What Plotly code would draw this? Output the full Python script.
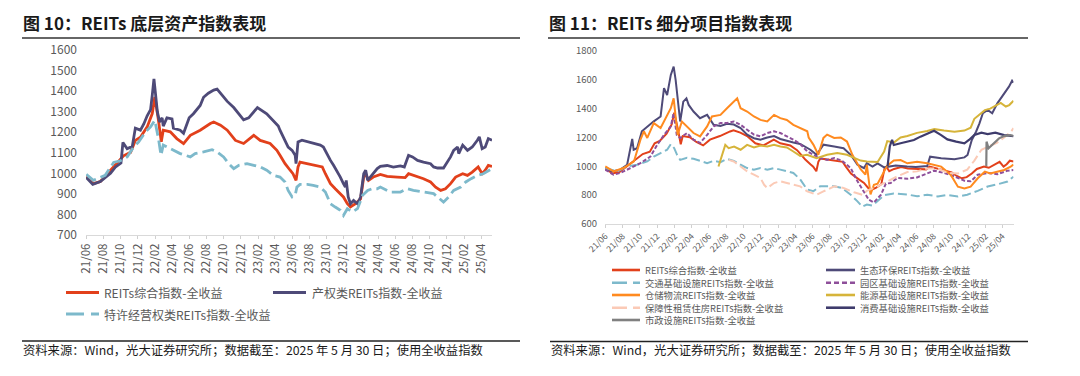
import plotly.graph_objects as go

W, H = 1080, 376
FONT = "Noto Sans CJK SC"
GREY = "#595959"

def px(x):
    return x / W

def py(y):
    return 1 - y / H

# ---------------- data: tick labels ----------------
TICK_LABELS = ["21/06", "21/08", "21/10", "21/12", "22/02", "22/04", "22/06", "22/08",
               "22/10", "22/12", "23/02", "23/04", "23/06", "23/08", "23/10", "23/12",
               "24/02", "24/04", "24/06", "24/08", "24/10", "24/12", "25/02", "25/04"]
TICK_DATES = ["20" + t[:2] + "-" + t[3:] + "-21" for t in TICK_LABELS]

# ---------------- left chart series ----------------
COMP_DATES = ["2021-06-21", "2021-07-16", "2021-08-10", "2021-09-26", "2021-10-31", "2021-11-25",
              "2021-12-12", "2021-12-30", "2022-01-23", "2022-02-10", "2022-02-19", "2022-03-04",
              "2022-03-14", "2022-03-21", "2022-04-15", "2022-05-08", "2022-06-01", "2022-06-25",
              "2022-07-30", "2022-09-04", "2022-09-16", "2022-10-10", "2022-11-03", "2022-12-02",
              "2022-12-31", "2023-02-05", "2023-02-28", "2023-04-04", "2023-04-28", "2023-05-09",
              "2023-05-27", "2023-06-14", "2023-06-24", "2023-07-05", "2023-07-12", "2023-07-19",
              "2023-08-14", "2023-09-04", "2023-10-06", "2023-10-17", "2023-11-04", "2023-11-21",
              "2023-12-09", "2023-12-20", "2024-01-03", "2024-01-14", "2024-02-01", "2024-02-19",
              "2024-03-01", "2024-03-08", "2024-03-18", "2024-04-04", "2024-04-29", "2024-05-23",
              "2024-06-28", "2024-07-26", "2024-08-07", "2024-08-24", "2024-09-29", "2024-10-24",
              "2024-11-11", "2024-11-29", "2024-12-16", "2025-01-03", "2025-01-21", "2025-02-15",
              "2025-03-04", "2025-03-21", "2025-04-11", "2025-04-25", "2025-05-06", "2025-05-17",
              "2025-05-30"]
COMP_VALUES = [985, 950, 960, 1029, 1085, 1102,
               1160, 1176, 1226, 1291, 1372, 1258,
               1153, 1210, 1202, 1169, 1145, 1185,
               1210, 1242, 1250, 1234, 1210, 1160,
               1145, 1185, 1160, 1145, 1112, 1088,
               1047, 1015, 998, 966, 1031, 1055,
               1047, 1039, 1031, 998, 950, 925,
               901, 885, 852, 836, 852, 876,
               982, 998, 966, 982, 995, 985,
               982, 979, 998, 990, 974, 958,
               933, 917, 925, 950, 982, 998,
               990, 1006, 1031, 998, 1015, 1039,
               1034]

PROP_DATES = ["2021-06-21", "2021-07-14", "2021-08-10", "2021-09-15", "2021-10-02", "2021-10-22",
              "2021-10-29", "2021-11-13", "2021-12-01", "2021-12-12", "2021-12-30", "2022-01-11",
              "2022-01-23", "2022-02-04", "2022-02-10", "2022-02-16", "2022-02-22", "2022-02-28",
              "2022-03-08", "2022-03-17", "2022-03-21", "2022-04-03", "2022-04-21", "2022-04-26",
              "2022-05-20", "2022-06-01", "2022-06-21", "2022-07-06", "2022-07-30", "2022-08-11",
              "2022-08-28", "2022-09-16", "2022-09-28", "2022-10-10", "2022-11-03", "2022-11-26",
              "2022-12-20", "2022-12-31", "2023-01-18", "2023-02-18", "2023-03-23", "2023-05-03",
              "2023-05-09", "2023-05-27", "2023-06-07", "2023-06-21", "2023-07-02", "2023-07-05",
              "2023-07-12", "2023-07-26", "2023-08-14", "2023-09-04", "2023-09-29", "2023-10-10",
              "2023-10-24", "2023-11-04", "2023-11-15", "2023-11-29", "2023-12-09", "2023-12-20",
              "2023-12-27", "2023-12-30", "2024-01-06", "2024-01-14", "2024-01-25", "2024-02-08",
              "2024-02-19", "2024-03-01", "2024-03-08", "2024-03-15", "2024-03-24", "2024-04-04",
              "2024-04-18", "2024-04-29", "2024-05-23", "2024-06-14", "2024-07-09", "2024-07-23",
              "2024-08-07", "2024-08-21", "2024-09-08", "2024-09-29", "2024-10-24", "2024-11-04",
              "2024-11-18", "2024-12-09", "2024-12-23", "2025-01-03", "2025-01-14", "2025-01-28",
              "2025-02-01", "2025-02-15", "2025-03-04", "2025-03-21", "2025-04-08", "2025-04-15",
              "2025-04-25", "2025-05-06", "2025-05-17", "2025-05-30"]
PROP_VALUES = [980, 946, 960, 1000, 1030, 1050,
               1150, 1120, 1130, 1220, 1210, 1240,
               1280, 1310, 1380, 1460, 1380, 1300,
               1250, 1270, 1230, 1270, 1265, 1220,
               1210, 1195, 1270, 1290, 1330, 1370,
               1390, 1405, 1410, 1390, 1350, 1320,
               1280, 1260, 1270, 1320, 1290, 1230,
               1210, 1161, 1128, 1112, 1088, 1047,
               1153, 1161, 1153, 1145, 1137, 1128,
               1088, 1063, 1039, 1007, 982, 950,
               933, 966, 885, 852, 868, 852,
               885, 998, 1015, 966, 982, 998,
               1023, 1034, 1038, 1030, 1036, 1031,
               1088, 1080, 1063, 1055, 1047, 1031,
               1026, 1026, 1055, 1080, 1112, 1128,
               1096, 1137, 1112, 1128, 1161, 1177,
               1120, 1128, 1169, 1161]

FRAN_DATES = ["2021-06-21", "2021-07-16", "2021-08-27", "2021-09-26", "2021-10-20", "2021-11-13",
              "2021-12-06", "2021-12-24", "2022-01-17", "2022-02-04", "2022-02-19", "2022-03-04",
              "2022-03-13", "2022-03-21", "2022-04-15", "2022-05-20", "2022-06-25", "2022-07-12",
              "2022-08-11", "2022-09-10", "2022-09-28", "2022-10-21", "2022-11-08", "2022-11-26",
              "2022-12-14", "2023-01-12", "2023-02-05", "2023-02-28", "2023-03-23", "2023-04-16",
              "2023-05-09", "2023-05-27", "2023-06-07", "2023-06-21", "2023-07-02", "2023-07-08",
              "2023-07-19", "2023-08-14", "2023-09-04", "2023-09-29", "2023-10-17", "2023-11-04",
              "2023-11-21", "2023-12-09", "2023-12-20", "2024-01-03", "2024-01-21", "2024-02-08",
              "2024-02-26", "2024-03-15", "2024-03-31", "2024-04-18", "2024-04-29", "2024-06-03",
              "2024-07-09", "2024-08-03", "2024-08-24", "2024-09-29", "2024-11-04", "2024-11-18",
              "2024-12-09", "2024-12-27", "2025-01-14", "2025-02-08", "2025-02-26", "2025-03-17",
              "2025-04-08", "2025-04-29", "2025-05-30"]
FRAN_VALUES = [995, 966, 990, 1053, 1061, 1080,
               1128, 1153, 1202, 1226, 1258, 1169,
               1088, 1137, 1120, 1096, 1080, 1096,
               1104, 1115, 1104, 1080, 1047, 1023,
               1039, 1047, 1039, 1031, 1015, 990,
               982, 958, 917, 885, 893, 933,
               946, 946, 941, 933, 909, 852,
               836, 820, 795, 828, 812, 828,
               893, 917, 925, 925, 933, 909,
               909, 925, 917, 909, 901, 885,
               860, 885, 917, 933, 958, 974,
               990, 998, 1023]

# ---------------- right chart series ----------------
ECO_DATES = ["2021-06-21", "2021-07-14", "2021-08-13", "2021-09-06", "2021-09-24", "2021-09-29",
             "2021-10-11", "2021-10-28", "2021-12-09", "2022-01-02", "2022-01-14", "2022-01-25",
             "2022-02-07", "2022-02-17", "2022-02-24", "2022-03-06", "2022-03-12", "2022-03-23",
             "2022-04-03", "2022-04-11", "2022-04-28", "2022-05-21", "2022-06-15", "2022-07-08",
             "2022-08-01", "2022-08-24", "2022-09-17", "2022-10-11", "2022-11-03", "2022-11-27",
             "2022-12-20", "2023-01-13", "2023-02-06", "2023-02-28", "2023-03-23", "2023-04-15",
             "2023-05-09", "2023-06-14", "2023-07-06", "2023-07-30", "2023-09-06", "2023-10-09",
             "2023-11-03", "2023-11-27", "2023-12-20", "2023-12-30", "2024-01-19", "2024-02-06",
             "2024-02-29", "2024-04-10", "2024-05-20", "2024-06-20", "2024-07-30", "2024-08-09",
             "2024-09-17", "2024-11-03", "2024-12-08", "2024-12-19", "2025-01-03", "2025-01-18",
             "2025-01-30", "2025-02-11", "2025-02-28", "2025-03-16", "2025-04-03", "2025-04-27",
             "2025-05-14", "2025-05-25", "2025-05-30"]
ECO_VALUES = [990, 965, 977, 1011, 1190, 1115,
              1126, 1243, 1312, 1346, 1542, 1495,
              1634, 1692, 1600, 1403, 1311, 1449,
              1472, 1426, 1380, 1334, 1357, 1288,
              1280, 1295, 1290, 1265, 1220, 1195,
              1185, 1200, 1210, 1190, 1175, 1165,
              1155, 1115, 1080, 1150, 1137, 1126,
              1080, 1011, 988, 1022, 998, 1020,
              993, 1005, 998, 995, 1002, 1067,
              1056, 1049, 1062, 1079, 1183, 1240,
              1298, 1368, 1391, 1368, 1437, 1506,
              1553, 1594, 1580]

TRANS_DATES = ["2021-06-21", "2021-08-02", "2021-09-06", "2021-10-11", "2021-11-16", "2021-12-09",
               "2022-01-02", "2022-01-25", "2022-02-07", "2022-02-19", "2022-03-01", "2022-03-12",
               "2022-04-05", "2022-04-28", "2022-05-21", "2022-06-15", "2022-07-08", "2022-08-01",
               "2022-08-24", "2022-09-17", "2022-10-11", "2022-11-03", "2022-11-27", "2022-12-20",
               "2023-01-13", "2023-02-06", "2023-02-28", "2023-03-23", "2023-04-15", "2023-05-09",
               "2023-06-02", "2023-06-25", "2023-07-18", "2023-08-12", "2023-09-06", "2023-10-03",
               "2023-11-03", "2023-11-27", "2023-12-14", "2023-12-30", "2024-01-18", "2024-02-06",
               "2024-02-29", "2024-04-03", "2024-05-21", "2024-06-24", "2024-07-30", "2024-09-05",
               "2024-10-09", "2024-11-15", "2024-12-18", "2025-01-24", "2025-02-28", "2025-04-03",
               "2025-05-09", "2025-05-30"]
TRANS_VALUES = [988, 965, 1000, 1011, 1034, 1068,
                1092, 1115, 1154, 1126, 1080, 1045,
                1060, 1052, 1038, 1022, 1038, 1029,
                1052, 1038, 1011, 988, 977, 988,
                977, 988, 977, 965, 954, 910,
                840, 828, 861, 861, 861, 850,
                803, 757, 720, 735, 728, 760,
                800, 812, 805, 792, 803, 791,
                802, 791, 803, 830, 860, 875,
                895, 928]

PARK_DATES = ["2021-06-21", "2021-07-20", "2021-08-13", "2021-09-18", "2021-10-23", "2021-11-27",
              "2021-12-21", "2022-01-14", "2022-02-07", "2022-02-17", "2022-02-28", "2022-03-12",
              "2022-04-05", "2022-04-28", "2022-05-21", "2022-06-15", "2022-07-08", "2022-08-01",
              "2022-08-24", "2022-09-17", "2022-10-11", "2022-11-03", "2022-11-27", "2022-12-20",
              "2023-01-13", "2023-02-06", "2023-02-28", "2023-03-23", "2023-04-15", "2023-05-09",
              "2023-06-03", "2023-06-25", "2023-07-18", "2023-08-12", "2023-09-06", "2023-10-03",
              "2023-11-03", "2023-11-27", "2023-12-20", "2024-01-06", "2024-01-24", "2024-02-18",
              "2024-03-06", "2024-03-23", "2024-04-15", "2024-05-21", "2024-06-24", "2024-07-30",
              "2024-08-23", "2024-09-27", "2024-11-03", "2024-12-08", "2024-12-30", "2025-01-24",
              "2025-02-28", "2025-04-03", "2025-05-09", "2025-05-30"]
PARK_VALUES = [977, 942, 954, 988, 1022, 1068,
               1149, 1218, 1277, 1370, 1218, 1197,
               1231, 1185, 1162, 1218, 1277, 1300,
               1300, 1311, 1288, 1254, 1220, 1208,
               1231, 1243, 1231, 1208, 1185, 1155,
               1103, 1080, 1057, 1045, 1057, 1040,
               988, 896, 826, 768, 750, 803,
               880, 884, 919, 914, 923, 954,
               970, 954, 930, 900, 896, 942,
               954, 945, 970, 975]

LOGI_DATES = ["2021-06-21", "2021-07-20", "2021-08-24", "2021-09-30", "2021-10-23", "2021-11-04",
              "2021-11-16", "2021-12-09", "2022-01-02", "2022-01-20", "2022-02-07", "2022-02-17",
              "2022-02-24", "2022-03-03", "2022-03-18", "2022-04-05", "2022-04-28", "2022-05-21",
              "2022-06-15", "2022-07-02", "2022-08-01", "2022-08-24", "2022-09-17", "2022-09-29",
              "2022-10-11", "2022-11-03", "2022-11-27", "2022-12-20", "2023-01-13", "2023-02-06",
              "2023-02-28", "2023-03-23", "2023-04-15", "2023-05-09", "2023-06-03", "2023-06-08",
              "2023-06-25", "2023-07-12", "2023-07-30", "2023-08-12", "2023-09-06", "2023-09-29",
              "2023-10-21", "2023-11-09", "2023-12-08", "2023-12-25", "2023-12-30", "2024-01-12",
              "2024-01-24", "2024-02-06", "2024-02-24", "2024-03-11", "2024-04-03", "2024-04-27",
              "2024-05-21", "2024-06-24", "2024-07-30", "2024-08-23", "2024-09-17", "2024-10-21",
              "2024-11-15", "2024-12-08", "2024-12-30", "2025-01-24", "2025-02-18", "2025-03-09",
              "2025-04-03", "2025-04-27", "2025-05-20", "2025-05-30"]
LOGI_VALUES = [999, 965, 988, 1034, 1185, 1243,
               1197, 1300, 1266, 1334, 1403, 1472,
               1357, 1218, 1311, 1277, 1231, 1208,
               1277, 1346, 1357, 1403, 1449, 1472,
               1403, 1380, 1346, 1322, 1311, 1357,
               1334, 1322, 1288, 1266, 1243, 1200,
               1149, 1080, 1197, 1220, 1197, 1200,
               1172, 1080, 980, 942, 1011, 805,
               872, 880, 950, 1005, 1040, 1044,
               1021, 1032, 1021, 1009, 998, 940,
               859, 847, 859, 917, 963, 951,
               963, 975, 998, 1012]

ENERGY_DATES = ["2022-07-25", "2022-08-03", "2022-08-18", "2022-08-30", "2022-09-18", "2022-10-11",
                "2022-11-03", "2022-11-27", "2022-12-20", "2023-01-13", "2023-02-06", "2023-02-28",
                "2023-03-23", "2023-04-15", "2023-05-09", "2023-06-02", "2023-07-06", "2023-08-12",
                "2023-09-17", "2023-10-21", "2023-11-15", "2023-12-08", "2023-12-30", "2024-02-06",
                "2024-02-29", "2024-03-11", "2024-04-03", "2024-04-27", "2024-05-21", "2024-06-24",
                "2024-07-30", "2024-08-24", "2024-09-27", "2024-11-03", "2024-12-08", "2024-12-30",
                "2025-01-12", "2025-01-24", "2025-02-18", "2025-03-09", "2025-04-03", "2025-04-15",
                "2025-05-03", "2025-05-15", "2025-05-30"]
ENERGY_VALUES = [999, 1057, 1149, 1126, 1137, 1115,
                 1149, 1131, 1145, 1137, 1149, 1137,
                 1131, 1103, 1072, 1080, 1057, 1080,
                 1092, 1080, 1057, 1040, 1034, 1030,
                 1103, 1175, 1165, 1200, 1210, 1232,
                 1245, 1258, 1248, 1240, 1248, 1268,
                 1330, 1350, 1390, 1400, 1425, 1440,
                 1415, 1425, 1455]

HOUSE_DATES = ["2022-08-30", "2022-09-17", "2022-10-11", "2022-11-03", "2022-11-27", "2022-12-20",
               "2023-01-02", "2023-01-13", "2023-02-06", "2023-02-28", "2023-03-23", "2023-04-15",
               "2023-05-09", "2023-06-03", "2023-07-06", "2023-07-30", "2023-09-06", "2023-10-09",
               "2023-11-15", "2023-12-14", "2023-12-30", "2024-02-06", "2024-03-11", "2024-04-15",
               "2024-05-21", "2024-06-24", "2024-07-30", "2024-09-05", "2024-10-09", "2024-11-15",
               "2024-12-18", "2025-01-12", "2025-02-06", "2025-03-09", "2025-04-03", "2025-04-27",
               "2025-05-21", "2025-05-30"]
HOUSE_VALUES = [1045, 1034, 999, 965, 942, 919,
                872, 849, 884, 896, 884, 872,
                861, 826, 803, 826, 861, 850,
                820, 803, 830, 861, 896, 930,
                960, 965, 985, 985, 954, 950,
                977, 1040, 1115, 1145, 1165, 1200,
                1240, 1265]

CONS_DATES = ["2024-03-12", "2024-03-20", "2024-03-28", "2024-04-03", "2024-04-27", "2024-05-21",
              "2024-06-13", "2024-07-06", "2024-07-30", "2024-08-23", "2024-09-17", "2024-10-09",
              "2024-11-09", "2024-12-08", "2024-12-24", "2025-01-12", "2025-02-06", "2025-02-28",
              "2025-03-27", "2025-04-27", "2025-05-30"]
CONS_VALUES = [1000, 1140, 1183, 1148, 1160, 1171,
               1183, 1206, 1224, 1247, 1217, 1187,
               1171, 1160, 1183, 1217, 1233, 1224,
               1233, 1217, 1210]

MUNI_DATES = ["2025-02-23", "2025-02-24", "2025-03-03", "2025-03-21", "2025-04-09", "2025-04-27",
              "2025-05-18", "2025-05-30"]
MUNI_VALUES = [1000, 1171, 1125, 1160, 1194, 1210, 1217, 1210]

# ---------------- styles ----------------
RED = "#E2401B"
NAVY = "#4E4A78"
LBLUE = "#7DB9CB"
PURPLE = "#8E4F9A"
ORANGE = "#FF8A1F"
MUSTARD = "#D6B43A"
PEACH = "#FBCAB6"
DNAVY = "#3E3B6C"
MGREY = "#808080"

LEFT_SERIES = [
    ("REITs综合指数-全收益", COMP_DATES, COMP_VALUES, RED, "solid", 2.8),
    ("产权类REITs指数-全收益", PROP_DATES, PROP_VALUES, NAVY, "solid", 2.8),
    ("特许经营权类REITs指数-全收益", FRAN_DATES, FRAN_VALUES, LBLUE, "12px,5px", 2.8),
]
RIGHT_SERIES = [
    ("REITs综合指数-全收益", COMP_DATES, COMP_VALUES, RED, "solid", 2.0),
    ("生态环保REITs指数-全收益", ECO_DATES, ECO_VALUES, NAVY, "solid", 2.0),
    ("交通基础设施REITs指数-全收益", TRANS_DATES, TRANS_VALUES, LBLUE, "9px,4px", 2.0),
    ("园区基础设施REITs指数-全收益", PARK_DATES, PARK_VALUES, PURPLE, "4px,2px", 2.0),
    ("仓储物流REITs指数-全收益", LOGI_DATES, LOGI_VALUES, ORANGE, "solid", 2.0),
    ("能源基础设施REITs指数-全收益", ENERGY_DATES, ENERGY_VALUES, MUSTARD, "solid", 2.0),
    ("保障性租赁住房REITs指数-全收益", HOUSE_DATES, HOUSE_VALUES, PEACH, "9px,4px", 2.0),
    ("消费基础设施REITs指数-全收益", CONS_DATES, CONS_VALUES, DNAVY, "solid", 2.2),
    ("市政设施REITs指数-全收益", MUNI_DATES, MUNI_VALUES, MGREY, "solid", 2.2),
]

fig = go.Figure()
for name, xs, ys, color, dash, width in LEFT_SERIES:
    fig.add_trace(go.Scatter(x=xs, y=ys, mode="lines", name=name, showlegend=False,
                             line=dict(color=color, width=width, dash=dash),
                             xaxis="x", yaxis="y"))
for name, xs, ys, color, dash, width in RIGHT_SERIES:
    fig.add_trace(go.Scatter(x=xs, y=ys, mode="lines", name=name, showlegend=False,
                             line=dict(color=color, width=width, dash=dash),
                             xaxis="x2", yaxis="y2"))

axis_common = dict(showgrid=False, zeroline=False, automargin=False)
fig.update_layout(
    template="none",
    width=W, height=H, autosize=False,
    margin=dict(l=0, r=0, t=0, b=0, pad=0, autoexpand=False),
    showlegend=False,
    paper_bgcolor="white", plot_bgcolor="white",
    font=dict(family=FONT, color=GREY),
    xaxis=dict(domain=[px(86), px(492)], type="date", range=["2021-06-20", "2025-05-30"],
               tickvals=TICK_DATES, ticktext=TICK_LABELS, tickangle=-90,
               tickfont=dict(size=11.5, color=GREY, family=FONT),
               ticks="outside", ticklen=3, tickcolor="#D0D0D0",
               showline=True, linecolor="#D9D9D9", linewidth=1, anchor="y", **axis_common),
    yaxis=dict(domain=[py(235), py(50)], range=[700, 1600], dtick=100,
               tickfont=dict(size=12, color=GREY, family=FONT),
               showline=False, ticks="", ticklabelstandoff=8, anchor="x", **axis_common),
    xaxis2=dict(domain=[px(605), px(1013.5)], type="date", range=["2021-06-20", "2025-05-30"],
                tickvals=TICK_DATES, ticktext=TICK_LABELS, tickangle=-45,
                tickfont=dict(size=8.5, color=GREY, family=FONT),
                ticks="outside", ticklen=3, tickcolor="#D0D0D0",
                showline=True, linecolor="#D9D9D9", linewidth=1, anchor="y2", **axis_common),
    yaxis2=dict(domain=[py(224), py(51)], range=[600, 1800], dtick=200,
                tickfont=dict(size=9.5, color=GREY, family=FONT),
                showline=False, ticks="", ticklabelstandoff=7, anchor="x2", **axis_common),
)

shapes = []
annotations = []

def hline(x0, x1, y, color, width, dash="solid"):
    shapes.append(dict(type="line", xref="paper", yref="paper",
                       x0=px(x0), x1=px(x1), y0=py(y), y1=py(y),
                       line=dict(color=color, width=width, dash=dash)))

def text(x, y, s, size, color, bold=False):
    annotations.append(dict(xref="paper", yref="paper", x=px(x), y=py(y),
                            xanchor="left", yanchor="middle", showarrow=False,
                            text=("<b>%s</b>" % s) if bold else s,
                            font=dict(family=FONT, size=size, color=color)))

# titles and rules
text(21, 22, "图 10：REITs 底层资产指数表现", 17, "#1A1A1A", bold=True)
text(547, 22, "图 11：REITs 细分项目指数表现", 17, "#1A1A1A", bold=True)
hline(22, 520, 38, "#333333", 1.3)
hline(548, 1028, 38, "#333333", 1.3)
hline(22, 520, 341, "#222222", 1.5)
hline(550, 1028, 341.5, "#222222", 1.5)
SOURCE = "资料来源：Wind，光大证券研究所；数据截至：2025 年 5 月 30 日；使用全收益指数"
text(21, 350, SOURCE, 12.3, "#1A1A1A")
text(549, 350, SOURCE, 12.3, "#1A1A1A")

# left legend
LEFT_LEGEND_POS = [(66, 99, 292.5, 102), (273, 306, 292.5, 309.5), (66, 99, 314, 102)]
for (x0, x1, y, tx), (name, _, _, color, dash, width) in zip(LEFT_LEGEND_POS, LEFT_SERIES):
    hline(x0, x1, y, color, 3, dash if dash == "solid" else "18px,7px")
    text(tx, y, name, 12, GREY)

# right legend (two columns)
ROW_Y = [270, 282.7, 295, 307.7, 320]
RIGHT_LEGEND_POS = [(612, 640, ROW_Y[0], 643), (826, 855, ROW_Y[0], 858),
                    (612, 640, ROW_Y[1], 643), (826, 855, ROW_Y[1], 858),
                    (612, 640, ROW_Y[2], 643), (826, 855, ROW_Y[2], 858),
                    (612, 640, ROW_Y[3], 643), (826, 855, ROW_Y[3], 858),
                    (612, 640, ROW_Y[4], 643)]
LEGEND_DASH = {"9px,4px": "15px,6px", "4px,2px": "5px,3px"}
for (x0, x1, y, tx), (name, _, _, color, dash, width) in zip(RIGHT_LEGEND_POS, RIGHT_SERIES):
    hline(x0, x1, y, color, 2.6, LEGEND_DASH.get(dash, dash))
    text(tx, y, name, 9.3, GREY)

fig.update_layout(shapes=shapes, annotations=annotations)
fig.write_html("out.html",
               config={"displayModeBar": False, "staticPlot": True},
               post_script="document.body.style.margin='0';document.body.style.overflow='hidden';")
